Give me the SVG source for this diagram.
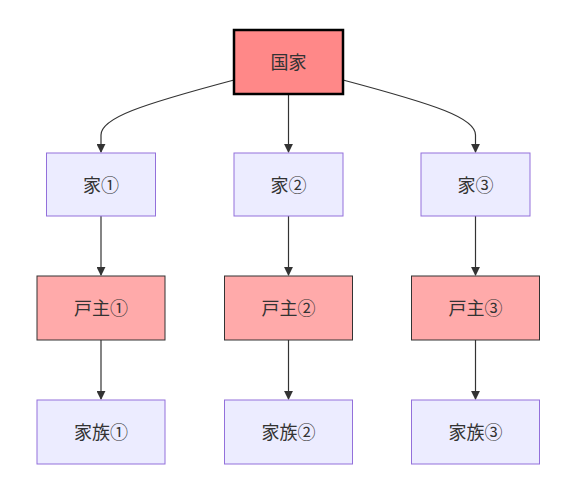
<svg xmlns="http://www.w3.org/2000/svg" width="568" height="490" viewBox="0 0 568 490">
<defs>
<marker id="arr" viewBox="0 0 10 10" refX="9" refY="5" markerWidth="9" markerHeight="9" markerUnits="userSpaceOnUse" orient="auto">
<path d="M0,0 L10,5 L0,10 z" fill="#333"/>
</marker>
<style>
.n rect{fill:#ECECFF;stroke:#9370DB;stroke-width:1}
.h rect{fill:#ffaaaa;stroke:#333;stroke-width:1}
.t rect{fill:#ff8888;stroke:#000;stroke-width:2.5}
text{font-family:"Noto Sans CJK JP","Noto Sans",sans-serif;font-size:18px;fill:#333;text-anchor:middle;dominant-baseline:central}
.e path{fill:none;stroke:#333;stroke-width:1.2;marker-end:url(#arr)}
</style>
</defs>
<rect width="568" height="490" fill="#fff"/>
<g class="e" id="edges">
<path d="M234,80 C140,105 101,118 101,135 L101,152"/>
<path d="M288.5,94 L288.5,152"/>
<path d="M343,80 C437,105 475.5,118 475.5,135 L475.5,152"/>
<path d="M101,216 L101,275"/>
<path d="M288.5,216 L288.5,275"/>
<path d="M475.5,216 L475.5,275"/>
<path d="M101,340 L101,399"/>
<path d="M288.5,340 L288.5,399"/>
<path d="M475.5,340 L475.5,399"/>
</g>
<g class="t" id="kokka"><rect x="234" y="30" width="109" height="64"/><text x="288.5" y="61">国家</text></g>
<g class="n" id="ie1"><rect x="46.5" y="153" width="109" height="63"/><text x="101" y="184">家①</text></g>
<g class="n" id="ie2"><rect x="234" y="153" width="109" height="63"/><text x="288.5" y="184">家②</text></g>
<g class="n" id="ie3"><rect x="421" y="153" width="109" height="63"/><text x="475.5" y="184">家③</text></g>
<g class="h" id="koshu1"><rect x="37" y="276" width="128" height="64"/><text x="101" y="307">戸主①</text></g>
<g class="h" id="koshu2"><rect x="224.5" y="276" width="128" height="64"/><text x="288.5" y="307">戸主②</text></g>
<g class="h" id="koshu3"><rect x="411.5" y="276" width="128" height="64"/><text x="475.5" y="307">戸主③</text></g>
<g class="n" id="kazoku1"><rect x="37" y="400" width="128" height="64"/><text x="101" y="431">家族①</text></g>
<g class="n" id="kazoku2"><rect x="224.5" y="400" width="128" height="64"/><text x="288.5" y="431">家族②</text></g>
<g class="n" id="kazoku3"><rect x="411.5" y="400" width="128" height="64"/><text x="475.5" y="431">家族③</text></g>
</svg>
